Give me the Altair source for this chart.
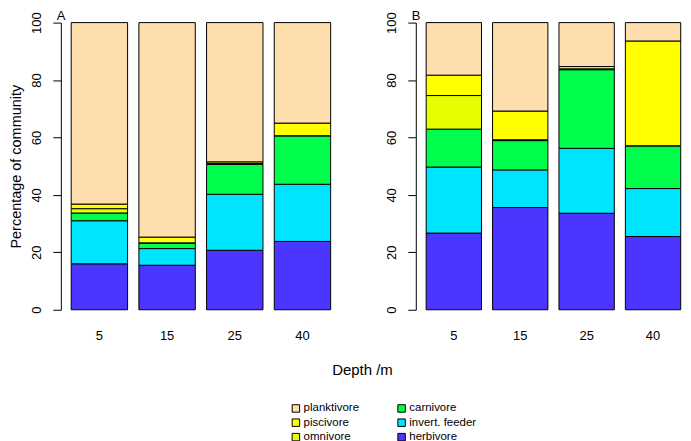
import altair as alt
import pandas as pd

FONT = "Liberation Sans"

depths = ["5", "15", "25", "40"]
groups_stack = ["herbivore", "invert. feeder", "carnivore", "omnivore", "piscivore", "planktivore"]
legend_order = ["planktivore", "piscivore", "omnivore", "carnivore", "invert. feeder", "herbivore"]
legend_colors = ["#FFDEAD", "#FFFF00", "#E5FF00", "#00FF4C", "#00E5FF", "#4B36FF"]

# Panel A (percentage of community)
a_herbivore = [16.0, 15.5, 20.7, 23.8]
a_invert = [15.0, 5.8, 19.5, 19.9]
a_carnivore = [2.7, 1.9, 10.4, 16.9]
a_omnivore = [1.5, 0.1, 0.3, 0.0]
a_piscivore = [1.6, 2.0, 0.6, 4.4]
a_planktivore = [63.2, 74.7, 48.5, 35.0]

# Panel B
b_herbivore = [26.7, 35.6, 33.6, 25.5]
b_invert = [23.0, 13.1, 22.6, 16.7]
b_carnivore = [13.2, 10.2, 27.4, 14.9]
b_omnivore = [11.7, 0.3, 0.3, 0.0]
b_piscivore = [7.1, 10.0, 0.8, 36.5]
b_planktivore = [18.3, 30.8, 15.3, 6.4]

series = {
    "A": [a_herbivore, a_invert, a_carnivore, a_omnivore, a_piscivore, a_planktivore],
    "B": [b_herbivore, b_invert, b_carnivore, b_omnivore, b_piscivore, b_planktivore],
}

rows = []
for panel, vals in series.items():
    for k, (g, v) in enumerate(zip(groups_stack, vals)):
        for d, x in zip(depths, v):
            rows.append({"panel": panel, "depth": d, "group": g, "value": x, "ord": k})
df = pd.DataFrame(rows)

legend = alt.Legend(
    orient="none", legendX=230, legendY=381, columns=2, title=None,
    symbolType="square", symbolSize=56, symbolStrokeColor="black", symbolStrokeWidth=1,
    symbolOpacity=1, labelFontSize=11.5, labelFont=FONT, labelColor="black",
    columnPadding=36, rowPadding=1.5, labelOffset=2, padding=0, labelLimit=300,
)

color = alt.Color("group:N", scale=alt.Scale(domain=legend_order, range=legend_colors), legend=legend)


def make_panel(panel, width, pad_outer, align, y_title, x_title):
    data = df[df.panel == panel]
    if x_title:
        x_axis = alt.Axis(labelAngle=0, domain=False, ticks=False, tickSize=0, labelPadding=20,
                          labelFontSize=13, labelFont=FONT, labelColor="black",
                          title="Depth /m", titleX=302, titleY=60, titleAlign="center",
                          titleBaseline="middle", titleFontSize=15, titleFont=FONT,
                          titleFontWeight="normal", titleColor="black")
    else:
        x_axis = alt.Axis(labelAngle=0, domain=False, ticks=False, tickSize=0, labelPadding=20,
                          labelFontSize=13, labelFont=FONT, labelColor="black", title=None)
    y_kwargs = dict(values=[0, 20, 40, 60, 80, 100], labelAngle=270, labelAlign="center",
                    labelBaseline="bottom", tickSize=8, labelPadding=9, domainColor="black",
                    tickColor="black", grid=False, labelFontSize=13, labelFont=FONT,
                    labelColor="black")
    if y_title:
        y_axis = alt.Axis(title="Percentage of community", titleFontSize=14.5, titlePadding=7,
                          titleFont=FONT, titleFontWeight="normal", titleColor="black", **y_kwargs)
    else:
        y_axis = alt.Axis(title=None, **y_kwargs)
    return alt.Chart(data).mark_bar(stroke="black", strokeWidth=1).encode(
        x=alt.X("depth:N", sort=depths,
                scale=alt.Scale(paddingInner=1 / 6, paddingOuter=pad_outer, align=align),
                axis=x_axis),
        y=alt.Y("value:Q", stack="zero", scale=alt.Scale(domain=[0, 100], nice=False), axis=y_axis),
        color=color,
        order=alt.Order("ord:Q"),
    ).properties(
        width=width, height=288,
        title=alt.TitleParams(panel, anchor="start", frame="group", dx=-4, offset=-11,
                              fontSize=13, fontWeight="normal", font=FONT, color="black"),
    )


pa = make_panel("A", 281, 0.153, 0.5, True, True)
pb = make_panel("B", 267, 0.0878, 0.889, False, False)

chart = alt.hconcat(pa, pb, spacing=75, bounds="flush").properties(
    padding=0
).configure_view(stroke="transparent")

chart.save("out.html", embed_options={"renderer": "svg", "actions": False})
